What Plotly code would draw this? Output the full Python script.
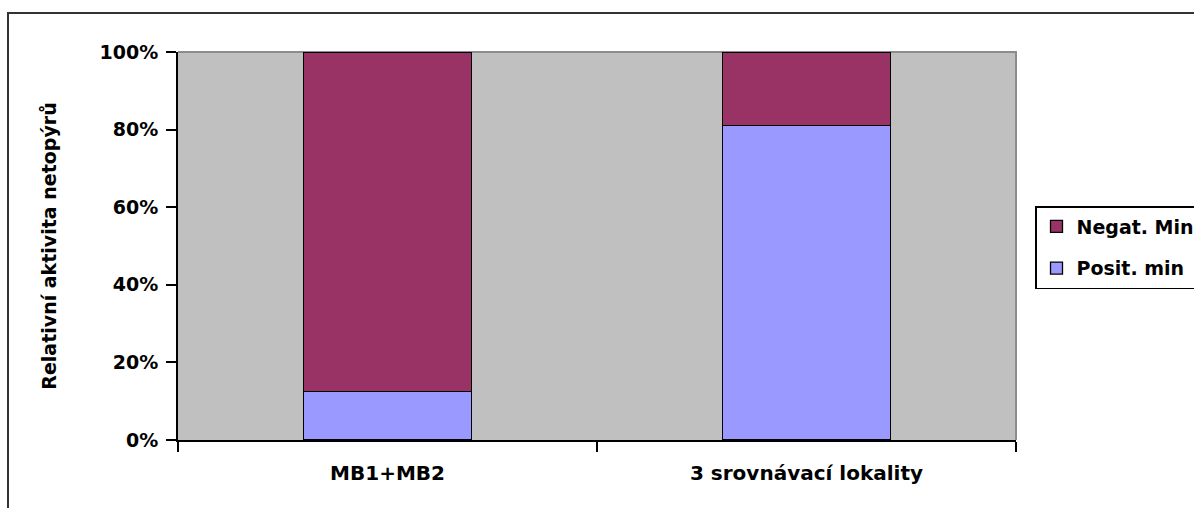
import plotly.graph_objects as go

# Relative bat activity by site group, split into positive / negative minutes
categories = ["MB1+MB2", "3 srovnávací lokality"]
posit_min = [12.5, 81.0]
negat_min = [87.5, 19.0]
series_names = ["Posit. min", "Negat. Min"]
y_ticks = [0, 20, 40, 60, 80, 100]
y_tick_labels = ["0%", "20%", "40%", "60%", "80%", "100%"]

FONT = "DejaVu Sans"
W, H = 1194, 508
ML, MR, MT, MB = 178, 178, 52, 68
plot_w, plot_h = W - ML - MR, H - MT - MB


def px_to_paper_x(px):
    return (px - ML) / plot_w


def px_to_paper_y(py):
    return (H - MB - py) / plot_h


fig = go.Figure()
fig.add_trace(go.Bar(
    x=categories, y=posit_min, name=series_names[0], legendgroup="p", legendrank=2,
    marker=dict(color="#9999FF", line=dict(color="#000000", width=1.3)),
))
fig.add_trace(go.Bar(
    x=categories, y=negat_min, name=series_names[1], legendgroup="n", legendrank=1,
    marker=dict(color="#993366", line=dict(color="#000000", width=1.3)),
))

# outer chart frame (left and top edges visible)
frame_path = "M {x0},{yb} L {x0},{yt} L {xr},{yt}".format(
    x0=px_to_paper_x(8), yb=px_to_paper_y(530), yt=px_to_paper_y(13), xr=px_to_paper_x(1230)
)

fig.update_layout(
    width=W, height=H,
    margin=dict(l=ML, r=MR, t=MT, b=MB, autoexpand=False),
    paper_bgcolor="#FFFFFF",
    plot_bgcolor="#C0C0C0",
    barmode="stack",
    bargap=0.6,
    font=dict(family=FONT, size=19, color="#000000", weight="bold"),
    showlegend=True,
    legend=dict(
        x=px_to_paper_x(1035), y=px_to_paper_y(206), xanchor="left", yanchor="top",
        bgcolor="#FFFFFF", bordercolor="#000000", borderwidth=1.5,
        font=dict(family=FONT, size=19, color="#000000", weight="bold"),
        traceorder="grouped", tracegroupgap=14,
    ),
    xaxis=dict(
        type="category", tickson="boundaries",
        showline=True, linecolor="#000000", linewidth=2,
        ticks="outside", ticklen=10, tickwidth=2, tickcolor="#000000",
        ticklabelstandoff=14,
        tickfont=dict(family=FONT, size=20, color="#000000", weight="bold"),
        showgrid=False, zeroline=False, fixedrange=True,
    ),
    yaxis=dict(
        range=[0, 100], tickmode="array", tickvals=y_ticks, ticktext=y_tick_labels,
        showline=True, linecolor="#000000", linewidth=2,
        ticks="outside", ticklen=10, tickwidth=2, tickcolor="#000000",
        ticklabelstandoff=4,
        tickfont=dict(family=FONT, size=19, color="#000000", weight="bold"),
        showgrid=False, zeroline=False, fixedrange=True,
        title=dict(text="Relativní aktivita netopýrů", standoff=38,
                   font=dict(family=FONT, size=19, color="#000000", weight="bold")),
    ),
    shapes=[
        dict(type="path", xref="paper", yref="paper", path="M 0,1 L 1,1 L 1,0",
             line=dict(color="#8C8C8C", width=2), layer="below"),
        dict(type="path", xref="paper", yref="paper", path=frame_path,
             line=dict(color="#333333", width=2)),
    ],
)

fig.write_html("out.html")
